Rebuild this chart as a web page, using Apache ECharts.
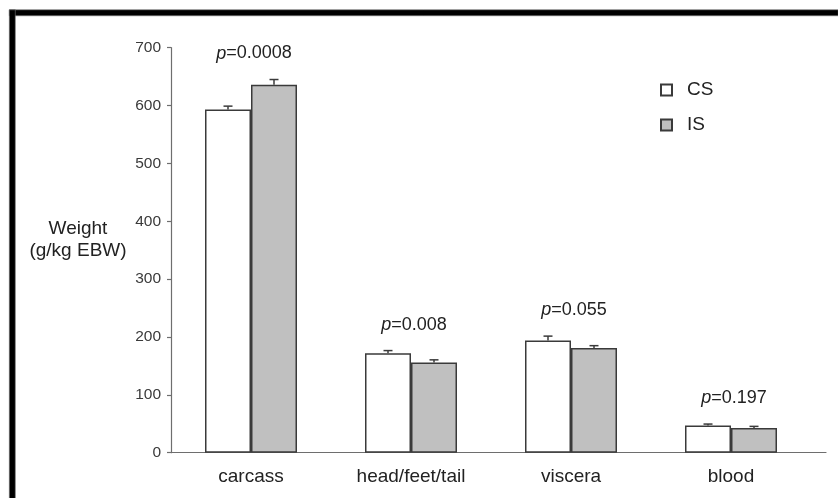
<!DOCTYPE html>
<html>
<head>
<meta charset="utf-8">
<script src="https://cdn.jsdelivr.net/npm/echarts@6/dist/echarts.min.js"></script>
<style>
  html, body { margin: 0; padding: 0; background: #fff; }
  #chart { width: 838px; height: 498px; }
</style>
</head>
<body>
<div id="chart"></div>
<script>
// Body composition: component weights per kg empty body weight
const categories = ['carcass', 'head/feet/tail', 'viscera', 'blood'];
const seriesNames = ['CS', 'IS'];
const csMean = [593, 172, 194, 47];
const csErr = [6, 4.5, 7.5, 2.5];
const isMean = [636, 156, 181, 42.5];
const isErr = [9, 4.5, 4, 3];
const pValues = ['0.0008', '0.008', '0.055', '0.197'];
const yTicks = [0, 100, 200, 300, 400, 500, 600, 700];

const FONT = "'Liberation Sans', Arial, sans-serif";
const BAR_FRAC = 0.2875;      // each bar's share of a category band
const EDGE = '#3a3a3a';

const chart = echarts.init(document.getElementById('chart'), null, { renderer: 'canvas' });

// Error bar (upper whisker only) for one of the two bars in each category
function errorRenderer(side) {
  return function (params, api) {
    const idx = api.value(0);
    const mean = api.value(1);
    const err = api.value(2);
    const band = api.size([1, 0])[0];
    const off = side * band * BAR_FRAC / 2;
    const base = api.coord([idx, mean]);
    const top = api.coord([idx, mean + err]);
    const x = base[0] + off;
    const cap = 4.5;
    return {
      type: 'group',
      children: [
        { type: 'line', shape: { x1: x, y1: base[1], x2: x, y2: top[1] },
          style: { stroke: EDGE, lineWidth: 1.5 } },
        { type: 'line', shape: { x1: x - cap, y1: top[1], x2: x + cap, y2: top[1] },
          style: { stroke: EDGE, lineWidth: 1.5 } }
      ]
    };
  };
}

// p-value annotation above the taller whisker of each pair
function pRenderer(params, api) {
  const idx = api.value(0);
  const top = api.value(1);
  const pt = api.coord([idx, top]);
  return {
    type: 'text',
    x: pt[0] + 3,
    y: pt[1] - 26,
    style: {
      text: '{i|p}=' + pValues[idx],
      align: 'center',
      verticalAlign: 'middle',
      fill: '#222',
      font: '18px ' + FONT,
      rich: {
        i: { fontStyle: 'italic', fontSize: 18, fontFamily: FONT, fill: '#222' }
      }
    }
  };
}

const pData = categories.map((c, i) => [i, Math.max(csMean[i] + csErr[i], isMean[i] + isErr[i])]);

const option = {
  animation: false,
  backgroundColor: '#fff',
  textStyle: { fontFamily: FONT },
  grid: [
    { left: 171, right: 27, top: 47.7, bottom: 45.3 },
    { left: 171, right: 12, top: 47.7, bottom: 45.3 }
  ],
  legend: {
    orient: 'vertical',
    left: 655,
    top: 75,
    icon: 'rect',
    itemWidth: 11,
    itemHeight: 11,
    itemGap: 15,
    selectedMode: false,
    data: seriesNames,
    textStyle: { fontSize: 19, color: '#222', fontFamily: FONT, lineHeight: 20, padding: [0, 0, 0, 10] }
  },
  xAxis: [
    {
      type: 'category',
      gridIndex: 0,
      data: categories,
      axisLine: { show: false },
      axisTick: { show: false },
      axisLabel: { fontSize: 19, color: '#222', margin: 15, fontFamily: FONT }
    },
    {
      // baseline that runs past the last category
      type: 'value',
      gridIndex: 1,
      min: 0,
      max: 1,
      axisLine: { show: true, lineStyle: { color: '#6e6e6e', width: 1.2 } },
      axisTick: { show: false },
      axisLabel: { show: false },
      splitLine: { show: false }
    }
  ],
  yAxis: [
    {
      type: 'value',
      gridIndex: 0,
      min: yTicks[0],
      max: yTicks[yTicks.length - 1],
      interval: yTicks[1] - yTicks[0],
      axisLine: { show: true, lineStyle: { color: '#6e6e6e', width: 1.2 } },
      axisTick: { show: true, length: 4, lineStyle: { color: '#6e6e6e', width: 1.2 } },
      axisLabel: { fontSize: 15.5, color: '#3a3a3a', margin: 10, fontFamily: FONT },
      splitLine: { show: false }
    },
    {
      type: 'value',
      gridIndex: 1,
      min: 0,
      max: 700,
      show: false
    }
  ],
  series: [
    {
      name: seriesNames[0],
      type: 'bar',
      xAxisIndex: 0,
      yAxisIndex: 0,
      data: csMean,
      barWidth: (BAR_FRAC * 100) + '%',
      barGap: '0%',
      itemStyle: { color: '#ffffff', borderColor: EDGE, borderWidth: 1.5 },
      z: 2
    },
    {
      name: seriesNames[1],
      type: 'bar',
      xAxisIndex: 0,
      yAxisIndex: 0,
      data: isMean,
      barWidth: (BAR_FRAC * 100) + '%',
      barGap: '0%',
      itemStyle: { color: '#c0c0c0', borderColor: EDGE, borderWidth: 1.5 },
      z: 2
    },
    {
      type: 'custom',
      xAxisIndex: 0,
      yAxisIndex: 0,
      renderItem: errorRenderer(-1),
      data: categories.map((c, i) => [i, csMean[i], csErr[i]]),
      z: 3,
      silent: true
    },
    {
      type: 'custom',
      xAxisIndex: 0,
      yAxisIndex: 0,
      renderItem: errorRenderer(1),
      data: categories.map((c, i) => [i, isMean[i], isErr[i]]),
      z: 3,
      silent: true
    },
    {
      type: 'custom',
      xAxisIndex: 0,
      yAxisIndex: 0,
      renderItem: pRenderer,
      data: pData,
      z: 4,
      silent: true
    }
  ],
  graphic: [
    // heavy frame along the top and left edges
    { type: 'rect', left: 9, top: 9.5, shape: { width: 829, height: 6 },
      style: { fill: '#000', stroke: '#777', lineWidth: 0.6 }, z: 10 },
    { type: 'rect', left: 9, top: 9.5, shape: { width: 6, height: 489 },
      style: { fill: '#000', stroke: '#777', lineWidth: 0.6 }, z: 10 },
    // y-axis title
    { type: 'text', x: 78, y: 240,
      style: { text: 'Weight\n(g/kg EBW)', align: 'center', verticalAlign: 'middle',
               fill: '#222', font: '19px ' + FONT, lineHeight: 22 } }
  ]
};

chart.setOption(option);
</script>
</body>
</html>
